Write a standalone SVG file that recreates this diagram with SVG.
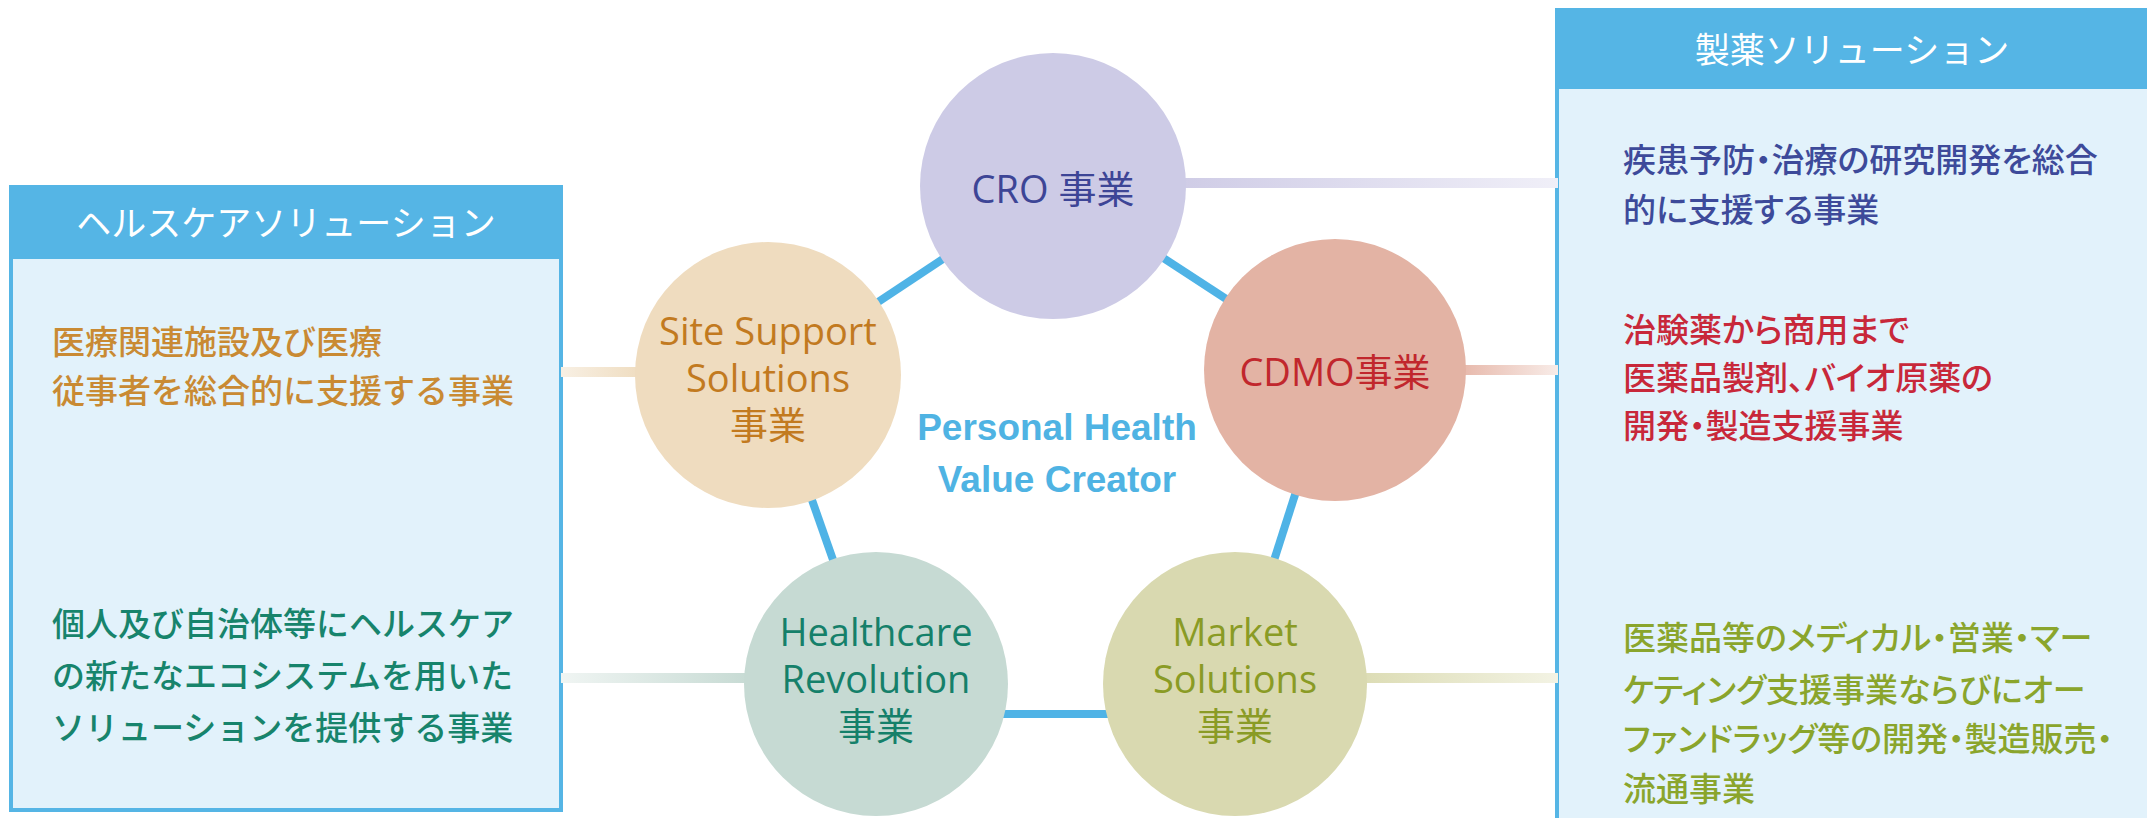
<svg xmlns="http://www.w3.org/2000/svg" width="2147" height="818" viewBox="0 0 2147 818">
  <defs>
    <style>
      .box { fill: #e2f2fb; stroke: #55b5e5; stroke-width: 4; }
      .hdr { fill: #55b5e5; }
      .hdrtxt { font-family: "Noto Sans CJK JP", "Noto Sans", sans-serif; font-size: 35px; fill: #ffffff; text-anchor: middle; }
      .desc { font-family: "Noto Sans CJK JP", sans-serif; font-size: 33px; font-weight: 500; }
      .palt { font-feature-settings: "palt"; }
      .edge { stroke: #4fb3e6; stroke-width: 8; fill: none; }
      .lbl { font-family: "Open Sans", "Noto Sans CJK JP", sans-serif; font-size: 38px; text-anchor: middle; }
      .core { font-family: "Liberation Sans", Arial, sans-serif; font-weight: bold; font-size: 37px; fill: #4fb3e3; text-anchor: middle; }
    </style>
    <linearGradient id="gCro" x1="0" y1="0" x2="1" y2="0">
      <stop offset="0" stop-color="#cfcce6"/><stop offset="1" stop-color="#f0eff8"/>
    </linearGradient>
    <linearGradient id="gCdmo" x1="0" y1="0" x2="1" y2="0">
      <stop offset="0" stop-color="#e6b5a7"/><stop offset="1" stop-color="#f8ece8"/>
    </linearGradient>
    <linearGradient id="gMkt" x1="0" y1="0" x2="1" y2="0">
      <stop offset="0" stop-color="#dcdcb4"/><stop offset="1" stop-color="#f3f3e4"/>
    </linearGradient>
    <linearGradient id="gSite" x1="0" y1="0" x2="1" y2="0">
      <stop offset="0" stop-color="#f8f0e4"/><stop offset="1" stop-color="#efdcbf"/>
    </linearGradient>
    <linearGradient id="gHc" x1="0" y1="0" x2="1" y2="0">
      <stop offset="0" stop-color="#f0f5f3"/><stop offset="1" stop-color="#c6dad3"/>
    </linearGradient>
  </defs>

  <rect x="0" y="0" width="2147" height="818" fill="#ffffff"/>

  <!-- Left panel -->
  <g id="panel-healthcare">
    <rect class="box" x="11" y="187" width="550" height="623"/>
    <rect class="hdr" x="11" y="187" width="550" height="72"/>
    <text class="hdrtxt" x="286" y="236">ヘルスケアソリューション</text>
    <text class="desc" fill="#c98a33" x="52" y="354">医療関連施設及び医療</text>
    <text class="desc" fill="#c98a33" x="52" y="403">従事者を総合的に支援する事業</text>
    <text class="desc" fill="#17846c" x="52" y="636">個人及び自治体等にヘルスケア</text>
    <text class="desc" fill="#17846c" x="52" y="688">の新たなエコシステムを用いた</text>
    <text class="desc" fill="#17846c" x="52" y="740">ソリューションを提供する事業</text>
  </g>

  <!-- Right panel -->
  <g id="panel-pharma">
    <rect class="box" x="1557" y="10" width="600" height="820"/>
    <rect class="hdr" x="1557" y="10" width="600" height="79"/>
    <text class="hdrtxt" x="1852" y="63">製薬ソリューション</text>
    <text class="desc palt" fill="#3d4a9a" x="1623" y="172">疾患予防・治療の研究開発を総合</text>
    <text class="desc palt" fill="#3d4a9a" x="1623" y="222">的に支援する事業</text>
    <text class="desc palt" fill="#c8283a" x="1623" y="342">治験薬から商用まで</text>
    <text class="desc palt" fill="#c8283a" x="1623" y="390">医薬品製剤、バイオ原薬の</text>
    <text class="desc palt" fill="#c8283a" x="1623" y="438">開発・製造支援事業</text>
    <text class="desc palt" fill="#8aa52c" x="1623" y="650">医薬品等のメディカル・営業・マー</text>
    <text class="desc palt" fill="#8aa52c" x="1623" y="702">ケティング支援事業ならびにオー</text>
    <text class="desc palt" fill="#8aa52c" x="1623" y="751">ファンドラッグ等の開発・製造販売・</text>
    <text class="desc palt" fill="#8aa52c" x="1623" y="801">流通事業</text>
  </g>

  <!-- Connectors -->
  <g id="connectors">
    <rect x="1180" y="178" width="378" height="10" fill="url(#gCro)"/>
    <rect x="1455" y="365" width="103" height="10" fill="url(#gCdmo)"/>
    <rect x="1360" y="673" width="198" height="10" fill="url(#gMkt)"/>
    <rect x="561" y="367" width="82" height="10" fill="url(#gSite)"/>
    <rect x="561" y="673" width="192" height="10" fill="url(#gHc)"/>
    <line class="edge" x1="1053" y1="186" x2="768" y2="375"/>
    <line class="edge" x1="1053" y1="186" x2="1335" y2="370"/>
    <line class="edge" x1="768" y1="375" x2="876" y2="682"/>
    <line class="edge" x1="1335" y1="370" x2="1235" y2="682"/>
    <line class="edge" x1="876" y1="714" x2="1235" y2="714"/>
  </g>

  <!-- Center label -->
  <g id="core">
    <text class="core" x="1057" y="440">Personal Health</text>
    <text class="core" x="1057" y="492">Value Creator</text>
  </g>

  <!-- Nodes -->
  <g id="node-cro">
    <circle cx="1053" cy="186" r="133" fill="#cdcbe6"/>
    <text class="lbl" fill="#3d4596" x="1053" y="203">CRO 事業</text>
  </g>
  <g id="node-cdmo">
    <circle cx="1335" cy="370" r="131" fill="#e3b3a4"/>
    <text class="lbl" fill="#c1272d" x="1335" y="386">CDMO事業</text>
  </g>
  <g id="node-site">
    <circle cx="768" cy="375" r="133" fill="#efdcbf"/>
    <text class="lbl" fill="#c27a1f" x="768" y="345">Site Support</text>
    <text class="lbl" fill="#c27a1f" x="768" y="392">Solutions</text>
    <text class="lbl" fill="#c27a1f" x="768" y="439">事業</text>
  </g>
  <g id="node-healthcare">
    <circle cx="876" cy="684" r="132" fill="#c6dad3"/>
    <text class="lbl" fill="#15806a" x="876" y="646">Healthcare</text>
    <text class="lbl" fill="#15806a" x="876" y="693">Revolution</text>
    <text class="lbl" fill="#15806a" x="876" y="740">事業</text>
  </g>
  <g id="node-market">
    <circle cx="1235" cy="684" r="132" fill="#d9d9b0"/>
    <text class="lbl" fill="#8a9b25" x="1235" y="646">Market</text>
    <text class="lbl" fill="#8a9b25" x="1235" y="693">Solutions</text>
    <text class="lbl" fill="#8a9b25" x="1235" y="740">事業</text>
  </g>
</svg>
